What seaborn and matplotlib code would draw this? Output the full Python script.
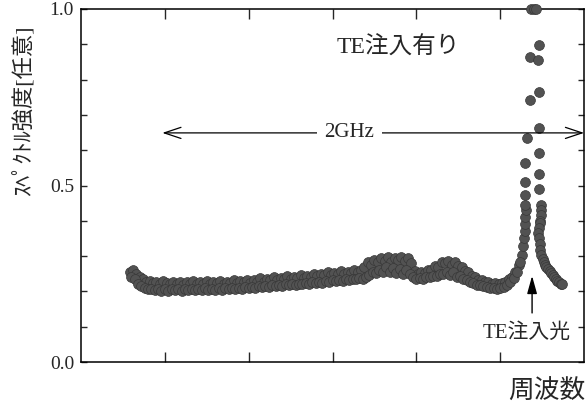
import numpy as np
import pandas as pd
import seaborn as sns
import matplotlib.pyplot as plt
from matplotlib.ticker import MultipleLocator

# the measured band is wide, so it is read as two traces:
# upper edge of the band, sampled every 0.04 starting at 0.58
upper_start = 0.58
upper_intensity = [
    0.255, 0.262, 0.250, 0.240, 0.236, 0.228, 0.230, 0.224, 0.228, 0.222,
    0.229, 0.224, 0.220, 0.228, 0.222, 0.226, 0.218, 0.227, 0.222, 0.229,
    0.220, 0.226, 0.221, 0.229, 0.220, 0.227, 0.223, 0.230, 0.222, 0.228,
    0.224, 0.231, 0.223, 0.229, 0.226, 0.233, 0.225, 0.232, 0.228, 0.237,
    0.228, 0.235, 0.231, 0.240, 0.232, 0.239, 0.234, 0.243, 0.235, 0.241,
    0.238, 0.246, 0.238, 0.245, 0.242, 0.250, 0.243, 0.249, 0.246, 0.254,
    0.246, 0.253, 0.250, 0.258, 0.250, 0.256, 0.253, 0.262, 0.255, 0.262,
    0.268, 0.284, 0.276, 0.290, 0.282, 0.296, 0.286, 0.297, 0.282, 0.296,
    0.290, 0.297, 0.286, 0.296, 0.280, 0.258, 0.250, 0.256, 0.252, 0.260,
    0.262, 0.272, 0.270, 0.282, 0.280, 0.285, 0.276, 0.282, 0.272, 0.270,
    0.258, 0.254, 0.244, 0.240, 0.232, 0.232, 0.226, 0.226, 0.221, 0.223,
    0.220, 0.225, 0.228, 0.236, 0.242, 0.256, 0.275, 0.302,
]
# lower edge of the band, sampled every 0.04 starting at 0.60
lower_start = 0.60
lower_intensity = [
    0.240, 0.234, 0.222, 0.216, 0.210, 0.206, 0.208, 0.203, 0.207, 0.202,
    0.206, 0.201, 0.207, 0.203, 0.206, 0.202, 0.207, 0.204, 0.208, 0.203,
    0.206, 0.204, 0.209, 0.204, 0.208, 0.205, 0.209, 0.205, 0.210, 0.206,
    0.210, 0.207, 0.211, 0.208, 0.212, 0.209, 0.213, 0.210, 0.214, 0.212,
    0.215, 0.213, 0.217, 0.215, 0.218, 0.216, 0.220, 0.217, 0.221, 0.219,
    0.222, 0.220, 0.224, 0.222, 0.226, 0.224, 0.227, 0.225, 0.229, 0.227,
    0.231, 0.229, 0.232, 0.230, 0.234, 0.232, 0.236, 0.234, 0.237, 0.236,
    0.242, 0.246, 0.256, 0.252, 0.262, 0.256, 0.268, 0.254, 0.266, 0.252,
    0.264, 0.250, 0.262, 0.248, 0.240, 0.236, 0.238, 0.236, 0.240, 0.240,
    0.244, 0.244, 0.250, 0.248, 0.256, 0.246, 0.254, 0.242, 0.244, 0.234,
    0.232, 0.226, 0.224, 0.218, 0.218, 0.214, 0.213, 0.210, 0.210, 0.208,
    0.210, 0.212, 0.218, 0.226, 0.238, 0.256, 0.282,
]
freq_step = 0.04

# injected TE line (peak region), read point by point
peak_freq = [
    5.27, 5.28, 5.29, 5.30, 5.30, 5.31, 5.30, 5.30, 5.30, 5.30,
    5.32, 5.35, 5.35,
    5.37, 5.40, 5.43,
    5.46, 5.45, 5.46, 5.46, 5.46, 5.46, 5.46, 5.49, 5.49, 5.49,
    5.48, 5.47, 5.46, 5.45, 5.46, 5.47, 5.48, 5.49, 5.51, 5.52,
    5.54, 5.55, 5.57, 5.59, 5.61, 5.63, 5.64, 5.66, 5.68, 5.70,
    5.72, 5.74,
]
peak_intensity = [
    0.330, 0.350, 0.370, 0.390, 0.410, 0.430, 0.445, 0.473, 0.510, 0.564,
    0.635, 0.742, 0.864,
    1.000, 1.000, 1.000,
    0.898, 0.856, 0.765, 0.663, 0.592, 0.533, 0.490, 0.445, 0.430, 0.416,
    0.400, 0.394, 0.380, 0.365, 0.350, 0.335, 0.318, 0.302, 0.292, 0.284,
    0.276, 0.270, 0.264, 0.258, 0.252, 0.246, 0.240, 0.235, 0.230, 0.226,
    0.222, 0.220,
]

upper_freq = upper_start + freq_step * np.arange(len(upper_intensity))
lower_freq = lower_start + freq_step * np.arange(len(lower_intensity))
df = pd.DataFrame({
    "freq": np.concatenate([upper_freq, lower_freq, peak_freq]),
    "intensity": np.concatenate([upper_intensity, lower_intensity, peak_intensity]),
})

sns.set_style("ticks")
plt.rcParams["font.family"] = ["Liberation Serif", "Noto Sans CJK JP"]

fig = plt.figure(figsize=(5.87, 4.03), dpi=100)
ax = fig.add_axes([0.138, 0.1017, 0.857, 0.876])

sns.scatterplot(data=df, x="freq", y="intensity", ax=ax, s=50,
                color="#525252", edgecolor="#383838", linewidth=0.5,
                clip_on=False, zorder=3)

ax.set_xlim(0, 6)
ax.set_ylim(0, 1.0)
ax.set_xticks([1, 2, 3, 4, 5])
ax.set_xticklabels([])
ax.set_yticks([0.0, 0.5, 1.0])
ax.set_yticklabels(["0.0", "0.5", "1.0"], fontsize=14)
ax.yaxis.set_minor_locator(MultipleLocator(0.1))
ax.tick_params(axis="x", which="both", direction="in", top=True, bottom=True,
               length=7, width=1)
ax.tick_params(axis="y", which="both", direction="in", left=True, right=True,
               length=4, width=1, pad=5)
for s in ax.spines.values():
    s.set_linewidth(1.1)
    s.set_color("black")

# labels
ax.set_xlabel("周波数", fontsize=18.5)
ax.xaxis.label.set_va("center")
ax.xaxis.set_label_coords(0.925, -0.085)
ax.set_ylabel("ｽﾍﾟｸﾄﾙ強度[任意]", fontsize=16)
ax.yaxis.set_label_coords(-0.093, 0.715)

# annotations
ax.text(3.78, 0.89, "TE注入有り", fontsize=17, ha="center", va="center")

ax.annotate("", xy=(0.97, 0.649), xytext=(6.0, 0.649),
            arrowprops=dict(arrowstyle="<->, head_length=0.6, head_width=0.2",
                            mutation_scale=20, lw=0.9, color="black",
                            shrinkA=0, shrinkB=0))
ax.text(3.2, 0.649, "2GHz", fontsize=15, ha="center", va="center",
        bbox=dict(boxstyle="square,pad=0.35", fc="white", ec="none"))

ax.annotate("", xy=(5.38, 0.244), xytext=(5.38, 0.139),
            arrowprops=dict(arrowstyle="-|>, head_length=0.9, head_width=0.25",
                            mutation_scale=12, lw=1.0, color="black",
                            shrinkA=0, shrinkB=0))
ax.text(5.32, 0.082, "TE注入光", fontsize=15, ha="center", va="center")

fig.savefig("out.png", dpi=100)
